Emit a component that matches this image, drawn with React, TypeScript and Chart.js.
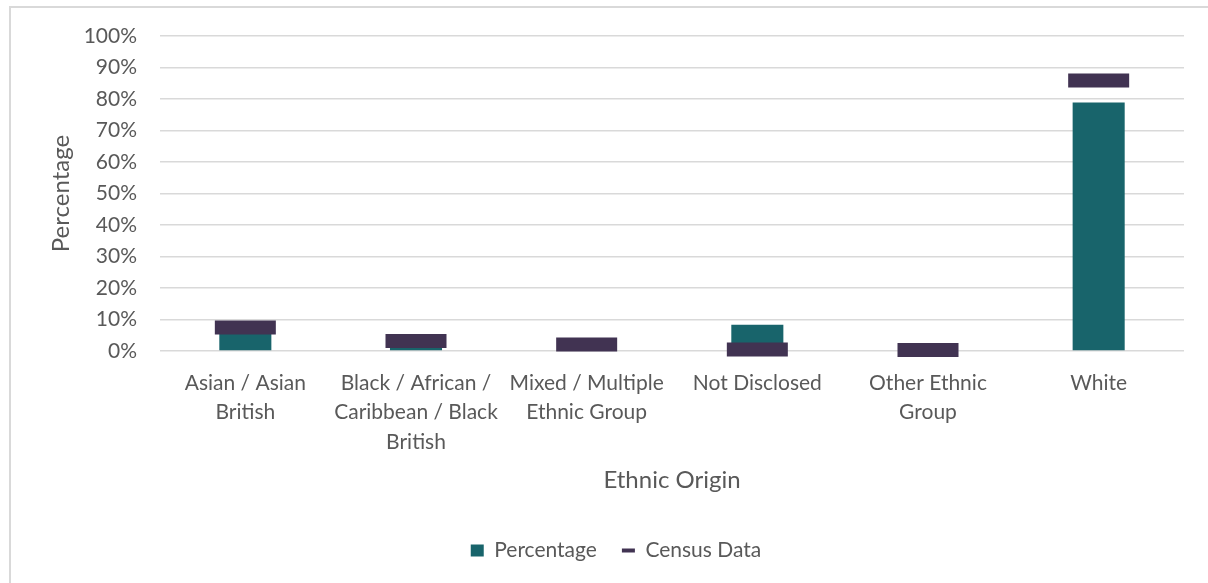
import React, { useEffect, useRef } from "react";
import { Chart, registerables } from "chart.js";

Chart.register(...registerables);

const categories: string[][] = [
  ["Asian / Asian", "British"],
  ["Black / African /", "Caribbean / Black", "British"],
  ["Mixed / Multiple", "Ethnic Group"],
  ["Not Disclosed"],
  ["Other Ethnic", "Group"],
  ["White"],
];
const percentageValues: number[] = [6, 2, 1, 8.3, 0, 78.9];
const censusValues: number[] = [7.5, 3.2, 2.1, 0.5, 0.3, 85.9];
const yTicks: number[] = [0, 10, 20, 30, 40, 50, 60, 70, 80, 90, 100];

const TEAL = "#18646b";
const PURPLE = "#413352";
const TEXT = "#595959";
const GRID = "#d9d9d9";
const FONT = "Lato";

export default function App() {
  const ref = useRef<HTMLCanvasElement | null>(null);

  useEffect(() => {
    if (!ref.current) return;
    const chart = new Chart(ref.current, {
      type: "bar",
      data: {
        labels: categories,
        datasets: [
          {
            type: "bar",
            label: "Percentage",
            data: percentageValues,
            backgroundColor: TEAL,
            borderWidth: 0,
            categoryPercentage: 1,
            barPercentage: 0.305,
            order: 2,
          },
          {
            type: "line",
            label: "Census Data",
            data: censusValues,
            showLine: false,
            pointStyle: "line",
            pointRadius: 30.5,
            pointHoverRadius: 30.5,
            pointBorderWidth: 14,
            pointHoverBorderWidth: 14,
            pointBorderColor: PURPLE,
            pointBackgroundColor: PURPLE,
            borderColor: PURPLE,
            clip: false,
            order: 1,
          } as any,
        ],
      },
      options: {
        animation: false,
        responsive: true,
        maintainAspectRatio: false,
        layout: { autoPadding: false, padding: { left: 24, right: 0, top: 36, bottom: 12 } },
        plugins: {
          tooltip: { enabled: false },
          legend: {
            position: "bottom",
            labels: {
              color: TEXT,
              font: { family: FONT, size: 21 },
              usePointStyle: true,
              boxHeight: 12,
              pointStyleWidth: 13,
              padding: 25,
              generateLabels: () => [
                {
                  text: "Percentage",
                  fillStyle: TEAL,
                  strokeStyle: TEAL,
                  lineWidth: 0,
                  pointStyle: "rect",
                  fontColor: TEXT,
                  datasetIndex: 0,
                  hidden: false,
                },
                {
                  text: "Census Data",
                  fillStyle: PURPLE,
                  strokeStyle: PURPLE,
                  lineWidth: 4,
                  pointStyle: "line",
                  fontColor: TEXT,
                  datasetIndex: 1,
                  hidden: false,
                },
              ],
            },
          },
        },
        scales: {
          x: {
            offset: true,
            grid: { display: false },
            border: { display: false },
            ticks: {
              color: TEXT,
              font: { family: FONT, size: 21, lineHeight: 1.4 },
              padding: 9.5,
              maxRotation: 0,
              autoSkip: false,
            },
            title: {
              display: true,
              text: "Ethnic Origin",
              color: TEXT,
              font: { family: FONT, size: 24 },
              padding: { top: 0, bottom: 20 },
            },
            afterFit: (scale: any) => {
              scale.height = 164;
              scale.paddingLeft = 0;
              scale.paddingRight = 0;
            },
          },
          y: {
            min: 0,
            max: 100,
            afterBuildTicks: (scale: any) => {
              scale.ticks = yTicks.map((v) => ({ value: v }));
            },
            grid: { color: GRID, lineWidth: 1.5, drawTicks: false },
            border: { display: false },
            ticks: {
              color: TEXT,
              font: { family: FONT, size: 21 },
              padding: 23,
              callback: (v: any) => v + "%",
            },
            title: {
              display: true,
              text: "Percentage",
              color: TEXT,
              font: { family: FONT, size: 24 },
              padding: { top: 23, bottom: 0 },
            },
            afterFit: (scale: any) => {
              scale.width = 136;
              scale.paddingTop = 0;
              scale.paddingBottom = 0;
            },
          },
          yRight: {
            position: "right",
            display: true,
            min: 0,
            max: 100,
            grid: { display: false, drawTicks: false },
            border: { display: false },
            ticks: { display: false },
            afterFit: (scale: any) => {
              scale.width = 24;
              scale.paddingTop = 0;
              scale.paddingBottom = 0;
            },
          },
        },
      } as any,
    });
    return () => chart.destroy();
  }, []);

  return (
    <div>
      <div
        style={{
          position: "absolute",
          left: 9,
          top: 6,
          width: 1199,
          height: 577,
          boxSizing: "border-box",
          borderLeft: `2px solid ${GRID}`,
          borderTop: `2px solid ${GRID}`,
          background: "#fff",
        }}
      />
      <div style={{ position: "absolute", left: 0, top: 0, width: 1208, height: 583 }}>
        <canvas ref={ref} />
      </div>
    </div>
  );
}
